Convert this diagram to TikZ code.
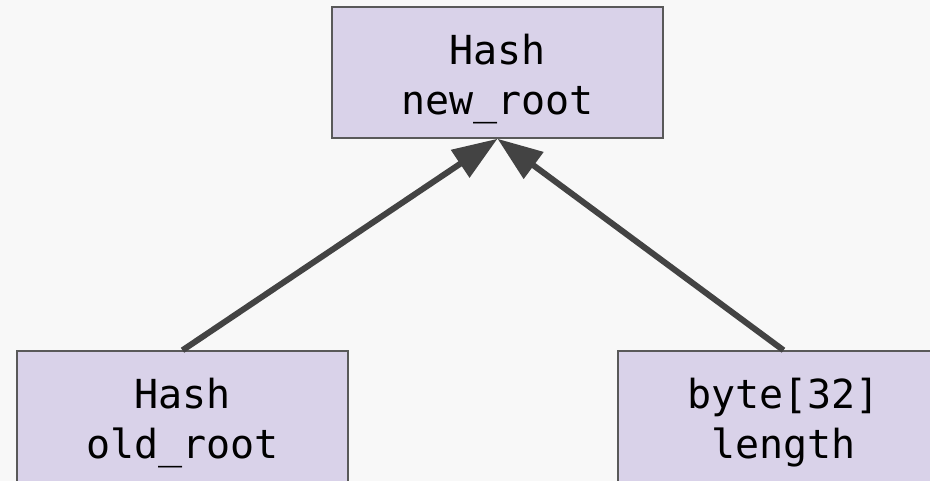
\documentclass[tikz,border=0pt]{standalone}
\usepackage{fontspec}
\setmonofont{DejaVu Sans Mono}
\usetikzlibrary{arrows.meta}
\definecolor{pagebg}{HTML}{F8F8F8}
\definecolor{fieldfill}{HTML}{D9D2E9}
\definecolor{fieldline}{HTML}{595959}
\definecolor{linkcolor}{HTML}{434343}
% struts that fix the room above the first line and below the last one
\newcommand{\upstrut}{\rule{0pt}{44pt}}
\newcommand{\downstrut}{\rule[-10pt]{0pt}{0pt}}
\begin{document}
\begin{tikzpicture}[x=1pt,y=-1pt,
  field/.style={draw=fieldline, line width=1.5pt, fill=fieldfill,
    minimum width=331pt, minimum height=131pt, inner sep=0pt,
    align=center, font=\fontsize{40}{50}\selectfont\ttfamily},
  link/.style={draw=linkcolor, line width=6pt,
    -{Triangle[length=45pt,width=32pt]}}]
  \fill[pagebg] (0,0) rectangle (930,481);
  \clip (0,0) rectangle (930,481);
  \node[field] (newroot) at (497.5,72.5) {\upstrut Hash\\new\_root\downstrut};
  \node[field] (oldroot) at (182.5,416.5) {\upstrut Hash\\old\_root\downstrut};
  \node[field] (length) at (783.5,416.5) {\upstrut byte[32]\\length\downstrut};
  \draw[link] (oldroot.north) -- (newroot.south);
  \draw[link] (length.north) -- (newroot.south);
\end{tikzpicture}
\end{document}
